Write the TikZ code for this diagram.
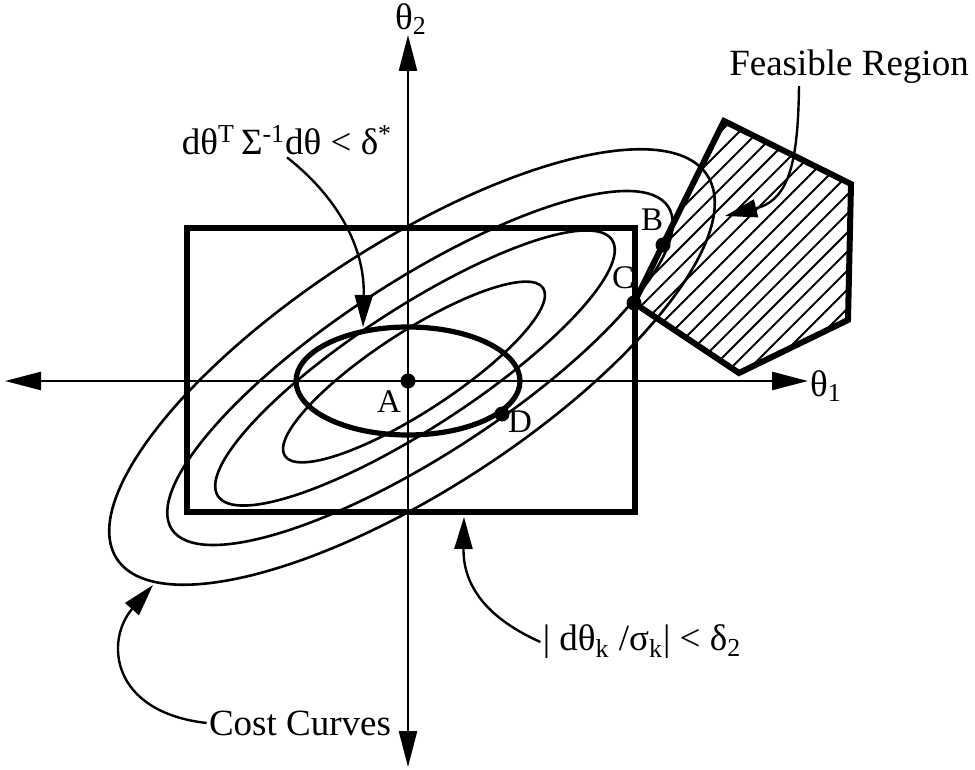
\documentclass[tikz,border=0pt]{standalone}
\usepackage{fontspec}
\setmainfont{Liberation Serif}
\usetikzlibrary{arrows.meta, calc}

\begin{document}
\begin{tikzpicture}[
    x=0.5pt, y=-0.5pt,
    every node/.style={font=\fontsize{18.5}{22}\selectfont, inner sep=1pt},
    cost/.style={line width=1.3pt},
    bound/.style={line width=3pt, line join=miter},
    axis/.style={line width=1.3pt,
      {Triangle[length=18pt,width=9pt]}-{Triangle[length=18pt,width=9pt]}},
    callout/.style={line width=1.2pt, -{Triangle[length=16pt,width=9pt]}},
    ptlbl/.style={font=\fontsize{16.5}{19}\selectfont},
    dot/.style={circle, fill, inner sep=0pt, minimum size=7.5pt},
  ]
  \useasboundingbox (0,0) rectangle (975,770);

  % axes
  \coordinate (xl) at (5,381);
  \coordinate (xr) at (808,381);
  \coordinate (yt) at (408,35);
  \coordinate (yb) at (408,767);
  \draw[axis] (xl) -- (xr);
  \draw[axis] (yb) -- (yt);
  \node (t1) at (826,386) {θ\textsubscript{1}};
  \node (t2) at (411,19)  {θ\textsubscript{2}};

  % points
  \node[dot] (A) at (408,381) {};
  \node[dot] (B) at (663,245) {};
  \node[dot] (C) at (634,303) {};
  \node[dot] (D) at (502,414) {};
  \node[ptlbl] (Alb) at (389,402) {A};
  \node[ptlbl] (Blb) at (652,220) {B};
  \node[ptlbl] (Clb) at (623,278) {C};
  \node[ptlbl] (Dlb) at (520,422) {D};

  % feasible region
  \coordinate (fr1) at (724,121);
  \coordinate (fr2) at (851,184);
  \coordinate (fr3) at (848,320);
  \coordinate (fr4) at (739,373);
  \begin{scope}
    \clip (fr1) -- (fr2) -- (fr3) -- (fr4) -- (C.center) -- cycle;
    \foreach \c in {852,871,...,1170}
      \draw[line width=0.9pt] ({\c-400},400) -- ({\c-100},100);
  \end{scope}
  \draw[bound] (fr1) -- (fr2) -- (fr3) -- (fr4) -- (C.center) -- cycle;

  % box constraint
  \draw[bound] (187,228) rectangle (635,512);

  % cost curves
  \foreach \cx/\cy/\a/\b in {414/372/154/40, 415/368/235/60,
                             420/368/296/87, 412/367/352/123}
    \draw[cost, shift={(\cx,\cy)}, rotate=33] (0,0) ellipse [x radius=\a, y radius=\b];

  % constraint ellipse
  \draw[line width=2.6pt] (A.center) ellipse [x radius=112, y radius=54];

  % labels
  \node (feas)     at (849,67)  {Feasible Region};
  \node (sigmalbl) at (287,140) {dθ\textsuperscript{T}\,Σ\textsuperscript{-1}dθ < δ\textsuperscript{*}};
  \node (costlbl)  at (300,723) {Cost Curves};
  \node (boxlbl)   at (642,642) {| dθ\textsubscript{k} /σ\textsubscript{k}| < δ\textsubscript{2}};

  \coordinate (sigtip)  at (363,327);
  \coordinate (feastip) at (725,216);
  \coordinate (costtip) at (153,585);
  \coordinate (boxtip)  at (464,517);
  \draw[callout] (sigmalbl.south) .. controls (335,195) and (365,245) .. (sigtip);
  \draw[callout] ([xshift=-25pt]feas.south) .. controls (798,160) and (790,200) .. (feastip);
  \draw[callout] (costlbl.west) .. controls (110,712) and (105,640) .. (costtip);
  \draw[callout] (boxlbl.west) .. controls (480,615) and (463,580) .. (boxtip);
\end{tikzpicture}
\end{document}
